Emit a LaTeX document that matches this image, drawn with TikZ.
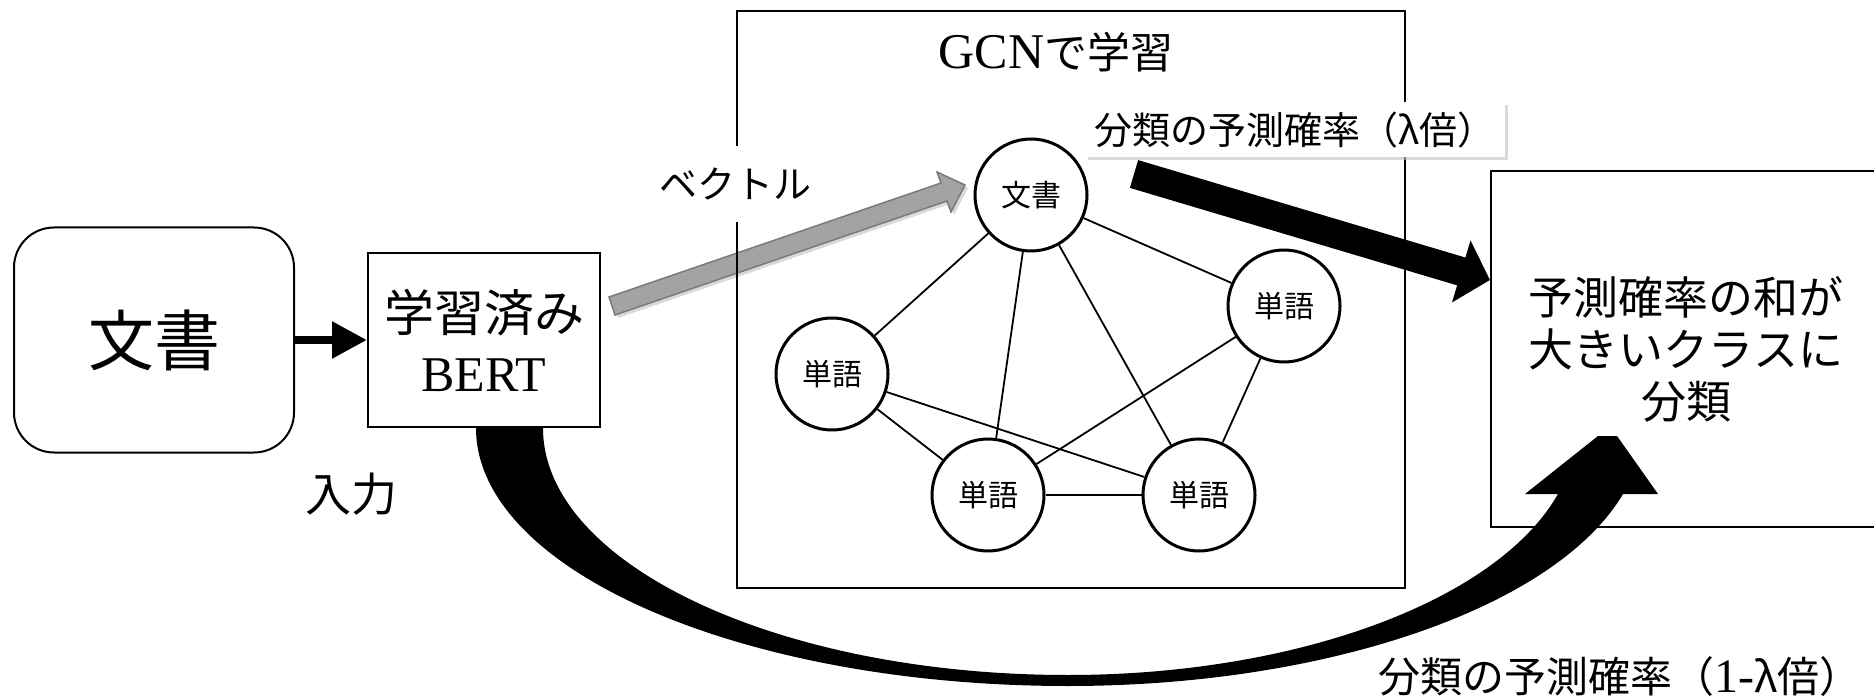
\documentclass[tikz,border=0pt]{standalone}
\usepackage{fontspec}
\setmainfont{Liberation Serif}
\newfontfamily\jpfont{Noto Sans CJK JP}
\usetikzlibrary{arrows.meta,shadows}
\definecolor{vecgray}{RGB}{163,163,163}
\definecolor{vecedge}{RGB}{122,122,122}

\begin{document}
\begin{tikzpicture}[x=1pt,y=-1pt,
  every node/.style={font=\jpfont},
  box/.style={draw,line width=2pt,inner sep=0pt},
  wordnode/.style={draw,circle,line width=3pt,minimum size=112pt,inner sep=0pt,
    font=\jpfont\fontsize{30}{30}\selectfont},
  edge/.style={line width=1.8pt}]
  \useasboundingbox (0,0) rectangle (1874,700);
  \node[box,rounded corners=40pt,minimum width=280pt,minimum height=225pt,
    font=\jpfont\fontsize{66}{66}\selectfont] (doc) at (154,340) {文書};
  \node[box,minimum width=232pt,minimum height=174pt,align=center,
    font=\fontsize{50}{60}\selectfont] (bert) at (484,340)
    {{\jpfont\fontsize{50}{60}\selectfont 学習済み}\\BERT};
  \node[font=\jpfont\fontsize{46}{46}\selectfont] (input) at (351,494) {入力};
  \draw[line width=8.5pt,-{Triangle[length=35pt,width=35pt]}] (doc) -- (bert);
  \filldraw[fill=vecgray,draw=vecedge,line width=1.5pt,
    drop shadow={shadow xshift=3pt,shadow yshift=-3pt,fill=black!25,opacity=0.6}]
    (609,297) -- (941,183) -- (937,172) -- (965,185) -- (951,212) -- (947,201)
    -- (615,315) -- cycle;
  \node[box] (gcn) at (1071,299.5) [minimum width=668pt,minimum height=577pt] {};
  \node[font=\fontsize{50}{50}\selectfont] (gcntitle) at (1056,52)
    {GCN{\jpfont\fontsize{43}{43}\selectfont で学習}};
  \node[fill=white,minimum height=76pt,inner xsep=4pt,
    font=\jpfont\fontsize{38}{38}\selectfont] (vec) at (735,184) {ベクトル};
  \node[wordnode] (d) at (1031,195) {文書};
  \node[wordnode] (w1) at (832,374) {単語};
  \node[wordnode] (w2) at (988,495) {単語};
  \node[wordnode] (w3) at (1199,495) {単語};
  \node[wordnode] (w4) at (1284,306) {単語};
  \draw[edge] (d) -- (w1);
  \draw[edge] (d) -- (w2);
  \draw[edge] (d) -- (w3);
  \draw[edge] (d) -- (w4);
  \draw[edge] (w1) -- (w2);
  \draw[edge] (w1) -- (w3);
  \draw[edge] (w4) -- (w2);
  \draw[edge] (w4) -- (w3);
  \draw[edge] (w2) -- (w3);
  \node[box,minimum width=390pt,minimum height=356pt,align=center,
    font=\jpfont\fontsize{45}{52}\selectfont] (res) at (1686,349)
    {予測確率の和が\\大きいクラスに\\分類};
  \coordinate (lamtail) at (1134,174);
  \draw[line width=29pt,-{Triangle[length=30pt,width=63pt]}]
    (lamtail) -- ([yshift=69pt]res.west);
  \node[fill=white,minimum width=420pt,minimum height=55pt,inner sep=0pt,
    drop shadow={shadow xshift=3pt,shadow yshift=-3pt,fill=black!25,opacity=0.6},
    font=\jpfont\fontsize{38}{38}\selectfont] (lam) at (1295,130) {分類の予測確率（λ倍）};
  \fill (476,428) .. controls (476,570) and (741,686) .. (1068,686)
    .. controls (1328,686) and (1556,607) .. (1623,494)
    -- (1658,494) -- (1617,436) -- (1598,436) -- (1525,494) -- (1558,494)
    .. controls (1497,601) and (1296,675) .. (1068,675)
    .. controls (778,675) and (543,564) .. (543,428) -- cycle;
  \node[font=\jpfont\fontsize{42}{42}\selectfont] (lamrest) at (1620,677)
    {分類の予測確率（{\rmfamily\fontsize{48}{48}\selectfont 1-}λ倍）};
\end{tikzpicture}
\end{document}
